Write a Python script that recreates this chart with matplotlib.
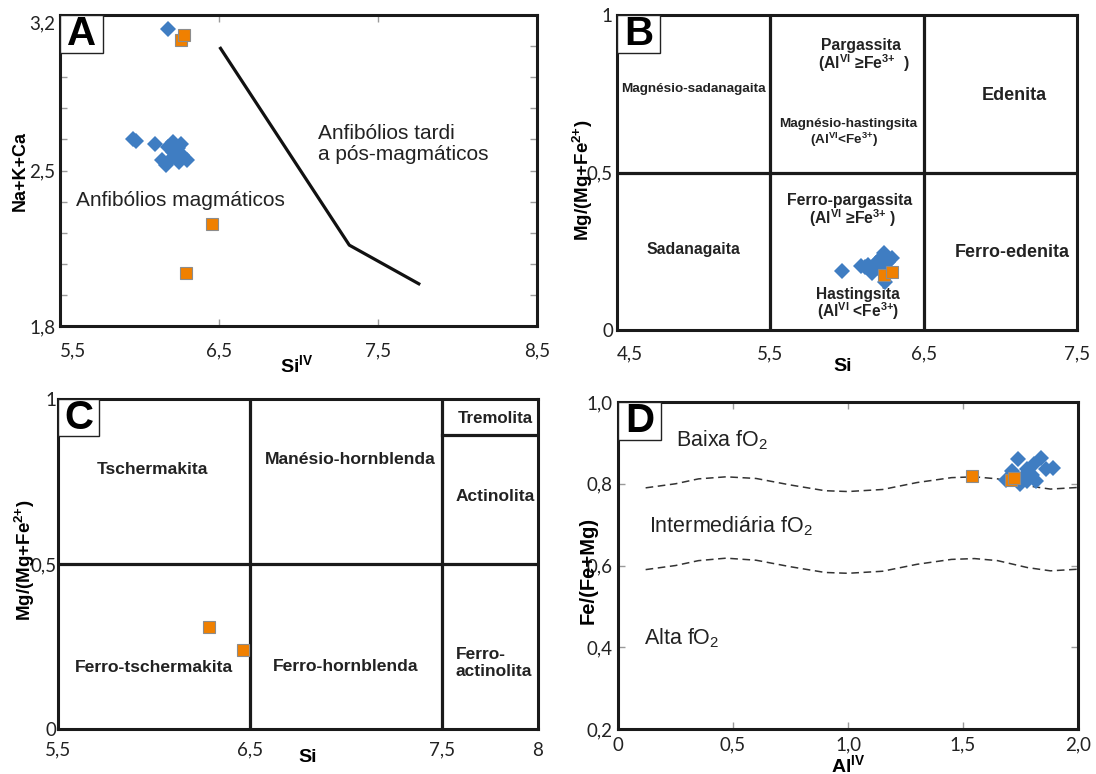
import numpy as np
import matplotlib.pyplot as plt
from matplotlib.patches import Rectangle

plt.rcParams['font.family'] = ['Liberation Sans', 'DejaVu Sans']
plt.rcParams['mathtext.default'] = 'regular'
plt.rcParams['axes.linewidth'] = 2.2

BLUE = '#3f7dc2'
ORANGE = '#f08000'
EDGE = '#8c8c8c'
TICKGREY = '#9a9a9a'
TICKFONT = ['Lato', 'DejaVu Sans']

# ---- A: Si(IV) x Na+K+Ca
a_blue_si = [6.18, 5.96, 5.98, 6.10, 6.21, 6.26, 6.14, 6.17, 6.23, 6.25, 6.30, 6.21, 6.18, 6.27, 6.20, 6.24]
a_blue_nkc = [3.135, 2.644, 2.635, 2.619, 2.629, 2.62, 2.547, 2.524, 2.56, 2.539, 2.547, 2.584, 2.607, 2.57, 2.55, 2.60]
a_orange_si = [6.26, 6.28, 6.455, 6.29]
a_orange_nkc = [3.087, 3.11, 2.257, 2.04]
a_line_si = [6.51, 7.32, 7.757]
a_line_nkc = [3.05, 2.164, 1.99]
a_xticks = [5.5, 6.5, 7.5, 8.5]
a_xlabels = ['5,5', '6,5', '7,5', '8,5']
a_yticks = [1.8, 2.5, 3.2]
a_ylabels = ['1,8', '2,5', '3,2']
a_yminor = [1.94, 2.08, 2.22, 2.36, 2.64, 2.78, 2.92, 3.06]

# ---- B: Si x Mg/(Mg+Fe2+)
b_blue_si = [5.97, 6.09, 6.12, 6.135, 6.16, 6.19, 6.225, 6.24, 6.29, 6.25, 6.20, 6.17, 6.21, 6.27, 6.23]
b_blue_mg = [0.188, 0.203, 0.200, 0.206, 0.18, 0.212, 0.233, 0.243, 0.228, 0.153, 0.196, 0.195, 0.222, 0.215, 0.205]
b_orange_si = [6.24, 6.29]
b_orange_mg = [0.175, 0.185]
b_vlines = [5.5, 6.5]
b_hlines = [0.5]
b_xticks = [4.5, 5.5, 6.5, 7.5]
b_xlabels = ['4,5', '5,5', '6,5', '7,5']
b_yticks = [0, 0.5, 1]
b_ylabels = ['0', '0,5', '1']

# ---- C: Si x Mg/(Mg+Fe2+)
c_orange_si = [6.288, 6.461]
c_orange_mg = [0.309, 0.238]
c_vlines = [6.5, 7.5]
c_hlines = [0.5]
c_trem_y = 0.89
c_xticks = [5.5, 6.5, 7.5, 8]
c_xlabels = ['5,5', '6,5', '7,5', '8']
c_yticks = [0, 0.5, 1]
c_ylabels = ['0', '0,5', '1']

# ---- D: Al(IV) x Fe/(Fe+Mg)
d_blue_al = [1.741, 1.839, 1.809, 1.779, 1.891, 1.861, 1.711, 1.688, 1.748, 1.779, 1.816, 1.763, 1.73, 1.80]
d_blue_fe = [0.861, 0.862, 0.849, 0.835, 0.838, 0.835, 0.831, 0.809, 0.799, 0.807, 0.807, 0.819, 0.82, 0.822]
d_orange_al = [1.537, 1.71, 1.72]
d_orange_fe = [0.819, 0.809, 0.815]
d_curve_al = [0.12, 0.25, 0.35, 0.47, 0.6, 0.75, 0.9, 1.0, 1.15, 1.3, 1.45, 1.55, 1.65, 1.78, 1.88, 2.0]
d_curve_hi = [0.790, 0.800, 0.812, 0.817, 0.813, 0.797, 0.783, 0.781, 0.786, 0.803, 0.815, 0.817, 0.812, 0.795, 0.787, 0.791]
d_curve_lo = [0.590, 0.600, 0.612, 0.618, 0.613, 0.597, 0.583, 0.581, 0.586, 0.603, 0.615, 0.617, 0.612, 0.595, 0.587, 0.591]
d_xticks = [0, 0.5, 1.0, 1.5, 2.0]
d_xlabels = ['0', '0,5', '1,0', '1,5', '2,0']
d_yticks = [0.2, 0.4, 0.6, 0.8, 1.0]
d_ylabels = ['0,2', '0,4', '0,6', '0,8', '1,0']

PLUS = r'\mathregular{+}'
FE2 = 'Fe$^{2' + PLUS + '}$'
FE3 = 'Fe$^{3' + PLUS + '}$'


def setup(ax, xlim, ylim, xt, xl, yt, yl, xpad, ypad):
    ax.set_xlim(*xlim)
    ax.set_ylim(*ylim)
    ax.set_xticks(xt)
    ax.set_xticklabels(xl, family=TICKFONT, fontsize=13.5)
    ax.set_yticks(yt)
    ax.set_yticklabels(yl, family=TICKFONT, fontsize=13.5)
    ax.tick_params(axis='x', pad=xpad, colors='#222')
    ax.tick_params(axis='y', pad=ypad, colors='#222')
    for s in ax.spines.values():
        s.set_color('#1a1a1a')


def grey_ticks(ax):
    ax.tick_params(axis='both', which='both', bottom=True, top=True, left=True,
                   right=True, direction='in', length=5, width=1, color=TICKGREY)


def letter(ax, txt, w, h):
    ax.add_patch(Rectangle((0, 1 - h), w, h, transform=ax.transAxes,
                           fc='white', ec='#222', lw=1.0, zorder=6))
    ax.text(w / 2, 1 - h / 2, txt, transform=ax.transAxes, ha='center',
            va='center', fontsize=29, fontweight='bold', zorder=7)


def labels(ax, xl, xpos, yl, ypos, xs=14, ys=13.5):
    ax.set_xlabel(xl, fontsize=xs, fontweight='bold')
    ax.xaxis.label.set_va('center')
    ax.xaxis.set_label_coords(*xpos)
    ax.set_ylabel(yl, fontsize=ys, fontweight='bold')
    ax.yaxis.label.set_va('center')
    ax.yaxis.set_label_coords(*ypos)


def diamonds(ax, x, y):
    ax.plot(x, y, 'D', color=BLUE, ms=8, mew=0, ls='none', zorder=4)


def squares(ax, x, y):
    ax.plot(x, y, 's', color=ORANGE, mec=EDGE, mew=0.8, ms=8, ls='none', zorder=5)


fig = plt.figure(figsize=(10.96, 7.74), dpi=100)
axA = fig.add_axes([0.0547, 0.5788, 0.4352, 0.4018])
axB = fig.add_axes([0.5630, 0.5736, 0.4197, 0.4070])
axC = fig.add_axes([0.0529, 0.0581, 0.4380, 0.4264])
axD = fig.add_axes([0.5639, 0.0581, 0.4197, 0.4225])

# A
setup(axA, (5.5, 8.5), (1.8, 3.2), a_xticks, a_xlabels, a_yticks, a_ylabels, 12, 3.5)
axA.set_yticks(a_yminor, minor=True)
grey_ticks(axA)
axA.xaxis.get_major_ticks()[0].label1.set_ha('left')
axA.yaxis.get_major_ticks()[-1].label1.set_va('top')
axA.plot(a_line_si, a_line_nkc, color='#111', lw=2.3, zorder=3)
diamonds(axA, a_blue_si, a_blue_nkc)
squares(axA, a_orange_si, a_orange_nkc)
axA.text(5.60, 2.366, 'Anfibólios magmáticos', fontsize=15, va='center', color='#222')
axA.text(7.12, 2.62, 'Anfibólios tardi\na pós-magmáticos', fontsize=15,
         va='center', linespacing=1.15, color='#222')
labels(axA, 'Si$^{IV}$', (0.497, -0.125), 'Na+K+Ca', (-0.084, 0.5), ys=13)
letter(axA, 'A', 0.09, 0.123)

# B
setup(axB, (4.5, 7.5), (0, 1), b_xticks, b_xlabels, b_yticks, b_ylabels, 11, 3)
axB.tick_params(length=0)
axB.xaxis.get_major_ticks()[0].label1.set_ha('left')
for v in b_vlines:
    axB.axvline(v, color='#1a1a1a', lw=2.3, zorder=2)
for v in b_hlines:
    axB.axhline(v, color='#1a1a1a', lw=2.3, zorder=2)
bkw = dict(ha='center', va='center', fontweight='bold', color='#222')
axB.text(6.09, 0.902, 'Pargassita', fontsize=11.3, **bkw)
axB.text(6.11, 0.847, '(Al$^{VI}$ ≥' + FE3 + '  )', fontsize=11.3, **bkw)
axB.text(4.996, 0.764, 'Magnésio-sadanagaita', fontsize=9.7, **bkw)
axB.text(7.09, 0.746, 'Edenita', fontsize=13, **bkw)
axB.text(6.007, 0.654, 'Magnésio-hastingsita', fontsize=9.7, **bkw)
axB.text(5.98, 0.605, '(Al$^{VI}$<' + FE3 + ')', fontsize=9.7, **bkw)
axB.text(6.02, 0.41, 'Ferro-pargassita', fontsize=11.4, **bkw)
axB.text(6.04, 0.354, '(Al$^{VI}$ ≥' + FE3 + ' )', fontsize=11.3, **bkw)
axB.text(5.0, 0.256, 'Sadanagaita', fontsize=11.4, **bkw)
axB.text(7.08, 0.247, 'Ferro-edenita', fontsize=12.9, **bkw)
axB.text(6.07, 0.114, 'Hastingsita', fontsize=11.2, **bkw)
axB.text(6.07, 0.061, '(Al$^{VI}$ <' + FE3 + ')', fontsize=11.2, **bkw)
diamonds(axB, b_blue_si, b_blue_mg)
squares(axB, b_orange_si, b_orange_mg)
labels(axB, 'Si', (0.491, -0.117), 'Mg/(Mg+' + FE2 + ')', (-0.074, 0.476))
letter(axB, 'B', 0.093, 0.12)

# C
setup(axC, (5.5, 8), (0, 1), c_xticks, c_xlabels, c_yticks, c_ylabels, 9, 1)
axC.tick_params(length=0)
for v in c_vlines:
    axC.axvline(v, color='#1a1a1a', lw=2.3, zorder=2)
for v in c_hlines:
    axC.axhline(v, color='#1a1a1a', lw=2.3, zorder=2)
axC.plot([c_vlines[1], 8], [c_trem_y, c_trem_y], color='#1a1a1a', lw=2.3, zorder=2)
axC.text(5.99, 0.786, 'Tschermakita', fontsize=12.6, **bkw)
axC.text(7.02, 0.818, 'Manésio-hornblenda', fontsize=12.6, **bkw)
axC.text(7.78, 0.942, 'Tremolita', fontsize=12.2, **bkw)
axC.text(7.775, 0.705, 'Actinolita', fontsize=12.5, **bkw)
axC.text(6.0, 0.185, 'Ferro-tschermakita', fontsize=12.6, **bkw)
axC.text(7.0, 0.19, 'Ferro-hornblenda', fontsize=12.6, **bkw)
axC.text(7.57, 0.20, 'Ferro-\nactinolita', fontsize=12.5, ha='left', va='center',
         fontweight='bold', color='#222', linespacing=1.2)
squares(axC, c_orange_si, c_orange_mg)
labels(axC, 'Si', (0.521, -0.085), 'Mg/(Mg+' + FE2 + ')', (-0.069, 0.512))
letter(axC, 'C', 0.086, 0.113)

# D
setup(axD, (0, 2), (0.2, 1.0), d_xticks, d_xlabels, d_yticks, d_ylabels, 5.5, 4)
grey_ticks(axD)
axD.plot(d_curve_al, d_curve_hi, color='#333', lw=1.1, ls=(0, (5, 3)), zorder=2)
axD.plot(d_curve_al, d_curve_lo, color='#333', lw=1.1, ls=(0, (5, 3)), zorder=2)
diamonds(axD, d_blue_al, d_blue_fe)
squares(axD, d_orange_al, d_orange_fe)
dkw = dict(ha='left', va='center', fontsize=15.5, color='#222')
axD.text(0.253, 0.906, 'Baixa fO$_2$', **dkw)
axD.text(0.133, 0.697, 'Intermediária fO$_2$', **dkw)
axD.text(0.113, 0.421, 'Alta fO$_2$', **dkw)
labels(axD, 'Al$^{IV}$', (0.5, -0.11), 'Fe/(Fe+Mg)', (-0.065, 0.486), ys=14.5)
letter(axD, 'D', 0.093, 0.116)

fig.savefig('out.png', dpi=100)
